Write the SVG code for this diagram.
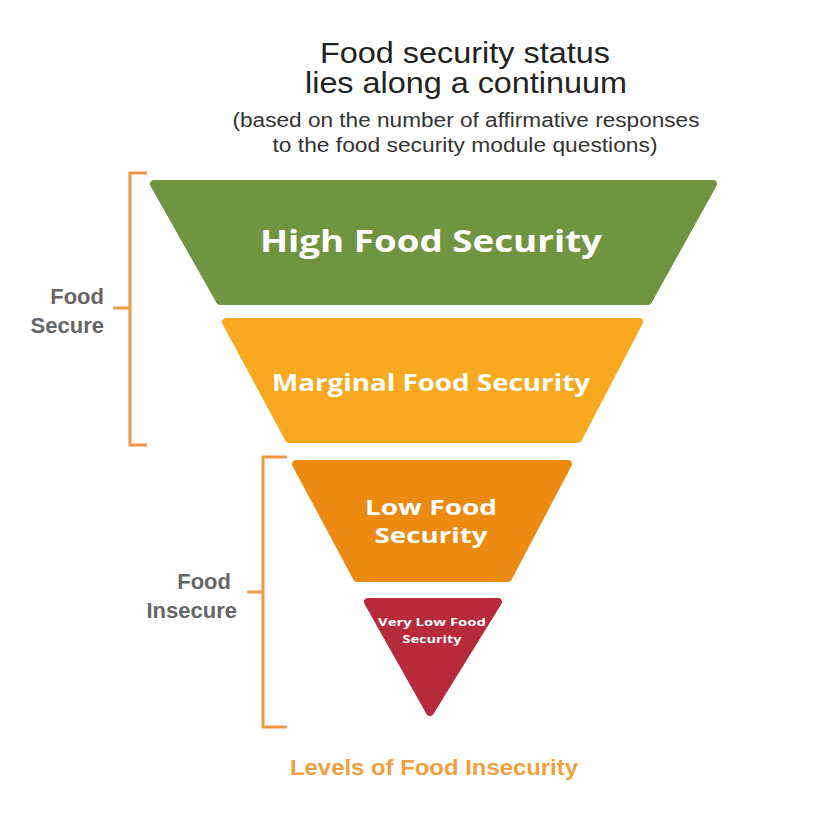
<svg xmlns="http://www.w3.org/2000/svg" width="832" height="830" viewBox="0 0 832 830">
<style>
.title{font-family:"Liberation Sans",Arial,sans-serif;fill:#222;text-anchor:middle}
.sub{font-family:"Liberation Sans",Arial,sans-serif;fill:#333;text-anchor:middle}
.side{font-family:"Liberation Sans",Arial,sans-serif;font-weight:bold;fill:#666;text-anchor:end;font-size:22px}
.lvl{font-family:"Open Sans","Noto Sans",sans-serif;font-weight:bold;fill:#fff;text-anchor:middle}
.shape{stroke-width:8;stroke-linejoin:round}
.br{fill:none;stroke:#ec9a45;stroke-width:3}
</style>
<rect width="832" height="830" fill="#fff"/>
<g id="title">
<text class="title" x="465" y="63" font-size="29" textLength="290" lengthAdjust="spacingAndGlyphs">Food security status</text>
<text class="title" x="466" y="93" font-size="29" textLength="322" lengthAdjust="spacingAndGlyphs">lies along a continuum</text>
<text class="sub" x="466" y="127" font-size="20" textLength="467" lengthAdjust="spacingAndGlyphs">(based on the number of affirmative responses</text>
<text class="sub" x="465" y="152" font-size="20" textLength="385" lengthAdjust="spacingAndGlyphs">to the food security module questions)</text>
</g>
<g id="high">
<polygon class="shape" fill="#6f9541" stroke="#6f9541" points="154,184 713,184 648,301 220,301"/>
<text class="lvl" x="431" y="252" font-size="30" textLength="342" lengthAdjust="spacingAndGlyphs">High Food Security</text>
</g>
<g id="marginal">
<polygon class="shape" fill="#f8a91f" stroke="#f8a91f" points="226,322 639,322 578,439 289,439"/>
<text class="lvl" x="431" y="391" font-size="23" textLength="318" lengthAdjust="spacingAndGlyphs">Marginal Food Security</text>
</g>
<g id="low">
<polygon class="shape" fill="#ec8a12" stroke="#ec8a12" points="296,464 568,464 508,578 357,578"/>
<text class="lvl" x="431" y="515" font-size="22" textLength="132" lengthAdjust="spacingAndGlyphs">Low Food</text>
<text class="lvl" x="431" y="543" font-size="22" textLength="113" lengthAdjust="spacingAndGlyphs">Security</text>
</g>
<g id="verylow">
<polygon class="shape" fill="#b72a3b" stroke="#b72a3b" points="368,602 498,602 430,712"/>
<text class="lvl" x="432" y="626" font-size="11" textLength="108" lengthAdjust="spacingAndGlyphs">Very Low Food</text>
<text class="lvl" x="432" y="643" font-size="11" textLength="59" lengthAdjust="spacingAndGlyphs">Security</text>
</g>
<g id="connectors">
<path class="br" d="M147,173 H130 V445 H147 M130,308 H113"/>
<path class="br" d="M287,457 H263 V727 H287 M263,592 H247"/>
</g>
<g id="food-secure">
<text class="side" x="104" y="304">Food</text>
<text class="side" x="104" y="333">Secure</text>
</g>
<g id="food-insecure">
<text class="side" x="231" y="589">Food</text>
<text class="side" x="237" y="618">Insecure</text>
</g>
<g id="footer">
<text x="434" y="775" font-family="Liberation Sans,Arial,sans-serif" font-weight="bold" font-size="22" fill="#f0a040" text-anchor="middle" textLength="288" lengthAdjust="spacingAndGlyphs">Levels of Food Insecurity</text>
</g>
</svg>
